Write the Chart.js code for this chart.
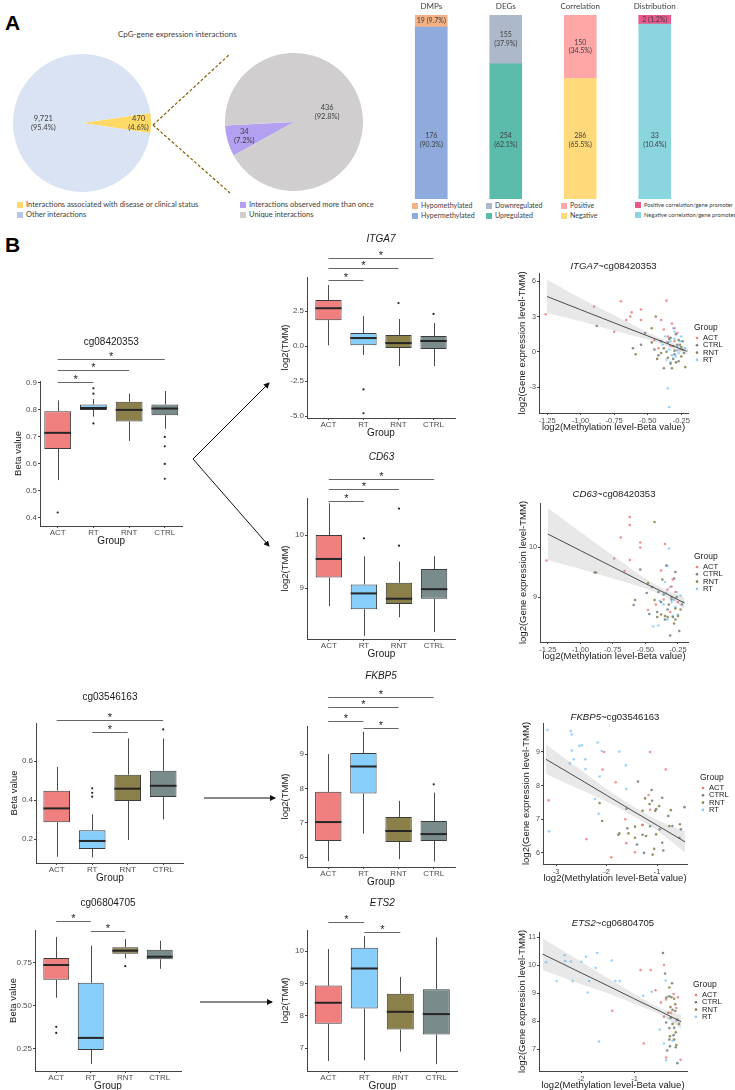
<!DOCTYPE html>
<html>
<head>
<meta charset="utf-8">
<script src="https://cdn.jsdelivr.net/npm/chart.js@4.4.1/dist/chart.umd.min.js"></script>
<style>
  body { margin: 0; background: #fff; }
  #page { position: relative; width: 735px; height: 1090px; overflow: hidden; font-family: 'Liberation Sans', Arial, sans-serif; }
  .box { position: absolute; }
  .lbl { position: absolute; white-space: nowrap; font-family: Lato, 'Open Sans', sans-serif; font-size: 7px; line-height: 8px; color: #404040; }
  .sq { display: inline-block; width: 6px; height: 6px; margin-right: 3px; vertical-align: -1px; }
  .big { position: absolute; font-weight: bold; font-size: 21px; color: #000; }
  svg { position: absolute; left: 0; top: 0; pointer-events: none; }
</style>
</head>
<body>
<div id="page">
  <div class="big" style="left:5px;top:11px;">A</div>
  <div class="big" style="left:5px;top:233px;">B</div>
  <div class="lbl" style="left:118px;top:30px;font-size:8px;">CpG-gene expression interactions</div>

  <div class="lbl" style="left:17px;top:201px;font-size:7.5px;"><span class="sq" style="background:#FFD966"></span>Interactions associated with disease or clinical status</div>
  <div class="lbl" style="left:17px;top:211px;font-size:7.5px;"><span class="sq" style="background:#B4C7E7"></span>Other interactions</div>
  <div class="lbl" style="left:240px;top:201px;font-size:7.5px;"><span class="sq" style="background:#B4A0F0"></span>Interactions observed more than once</div>
  <div class="lbl" style="left:240px;top:211px;font-size:7.5px;"><span class="sq" style="background:#D0CECE"></span>Unique interactions</div>
  <div id="barLegend"></div>

  <svg width="735" height="1090">
    <defs>
      <marker id="ah" markerWidth="6" markerHeight="6" refX="5" refY="3" orient="auto" markerUnits="userSpaceOnUse">
        <path d="M0,0 L6,3 L0,6 z" fill="#111"/>
      </marker>
    </defs>
    <g stroke="#7F6000" stroke-width="1.2" stroke-dasharray="3 2" fill="none">
      <line x1="153" y1="125" x2="230" y2="54"/>
      <line x1="153" y1="125" x2="230" y2="193"/>
    </g>
    <g stroke="#111" stroke-width="1" fill="none" marker-end="url(#ah)">
      <line x1="193" y1="459" x2="269" y2="383"/>
      <line x1="193" y1="459" x2="269" y2="546"/>
      <line x1="204" y1="798" x2="275" y2="798"/>
      <line x1="200" y1="1002" x2="272" y2="1002"/>
    </g>
  </svg>
</div>

<script>
// ---------- data ----------
const groups = ['ACT', 'RT', 'RNT', 'CTRL'];
const groupColors = ['#F08080', '#87CEFA', '#8B7F4A', '#7A8B8B'];

// panel A, pies
const pie1Values = [470, 9721];
const pie1Text = ['470\n(4.6%)', '9,721\n(95.4%)'];
const pie2Values = [34, 436];
const pie2Text = ['34\n(7.2%)', '436\n(92.8%)'];

// panel A, stacked bars (share of bar height as drawn)
const barCats = ['DMPs', 'DEGs', 'Correlation', 'Distribution'];
const barBottomShare = [93.5, 73.5, 65.5, 95];
const barTopShare = [6.5, 26.5, 34.5, 5];
const barTopText = ['19 (9.7%)', '155\n(37.9%)', '150\n(34.5%)', '2 (1.2%)'];
const barBottomText = ['176\n(90.3%)', '254\n(62.1%)', '286\n(65.5%)', '33\n(10.4%)'];
const barTopNames = ['Hypomethylated', 'Downregulated', 'Positive', 'Positive correlation/gene promoter'];
const barBottomNames = ['Hypermethylated', 'Upregulated', 'Negative', 'Negative correlation/gene promoter'];
const barTopColors = ['#F4B183', '#ADB9CA', '#FFA6A6', '#E9578C'];
const barBottomColors = ['#8FAADC', '#5CBCAC', '#FFD97A', '#8BD6DE'];

// panel B, box stats per group: [min, q1, median, q3, max]
const cg08420353Stats = [[0.54, 0.655, 0.715, 0.795, 0.835], [0.775, 0.80, 0.807, 0.82, 0.84], [0.685, 0.757, 0.80, 0.83, 0.86], [0.73, 0.78, 0.805, 0.82, 0.87]];
const cg08420353Out = [[0, 0.42], [1, 0.88], [1, 0.86], [1, 0.75], [3, 0.70], [3, 0.665], [3, 0.60], [3, 0.545]];
const itga7Stats = [[0.05, 1.85, 2.7, 3.29, 4.35], [-0.64, 0.05, 0.57, 0.93, 2.14], [-1.43, -0.14, 0.21, 0.79, 1.93], [-1.43, -0.21, 0.36, 0.71, 1.64]];
const itga7Out = [[1, -3.1], [1, -4.8], [2, 3.07], [3, 2.29]];
const cd63Stats = [[8.66, 9.2, 9.55, 10.0, 10.6], [8.1, 8.6, 8.9, 9.07, 9.6], [8.45, 8.7, 8.8, 9.1, 9.5], [8.17, 8.8, 8.98, 9.36, 9.6]];
const cd63Out = [[1, 9.94], [2, 9.8], [2, 10.5]];
const cg03546163Stats = [[0.109, 0.286, 0.357, 0.448, 0.57], [0.106, 0.149, 0.19, 0.245, 0.327], [0.195, 0.395, 0.458, 0.53, 0.716], [0.30, 0.415, 0.473, 0.55, 0.716]];
const cg03546163Out = [[1, 0.46], [1, 0.437], [1, 0.417], [3, 0.762]];
const fkbp5Stats = [[5.88, 6.47, 7.02, 7.9, 9.0], [6.68, 7.85, 8.64, 9.03, 9.65], [5.94, 6.44, 6.76, 7.17, 7.64], [5.87, 6.47, 6.67, 7.05, 7.88]];
const fkbp5Out = [[3, 8.12]];
const cg06804705Stats = [[0.547, 0.651, 0.737, 0.778, 0.9], [0.163, 0.244, 0.314, 0.634, 0.849], [0.775, 0.802, 0.82, 0.84, 0.887], [0.715, 0.77, 0.785, 0.825, 0.878]];
const cg06804705Out = [[0, 0.378], [0, 0.343], [2, 0.73]];
const ets2Stats = [[6.6, 7.75, 8.4, 8.93, 10.06], [6.62, 8.22, 9.46, 10.1, 10.46], [6.89, 7.57, 8.12, 8.68, 9.2], [6.5, 7.42, 8.05, 8.82, 10.42]];
const ets2Out = [];

// scatter legend order
const legendGroups = ['ACT', 'CTRL', 'RNT', 'RT'];
const legendColors = ['#F08080', '#6F8080', '#8B7F4A', '#87CEFA'];

// ITGA7 ~ cg08420353, [log2 beta, log2 TMM]
const sc1Act = [[-1.26, 3.2], [-0.90, 3.85], [-0.75, 1.7], [-0.70, 4.3], [-0.66, 2.7], [-0.63, 3.0], [-0.62, 3.35], [-0.55, 3.6], [-0.55, 2.7], [-0.40, 2.7], [-0.36, 4.35], [-0.32, 2.4], [-0.35, 1.3], [-0.30, 0.9], [-0.42, 0.3], [-0.38, 1.9], [-0.28, 1.6], [-0.33, 0.5], [-0.45, 1.0], [-0.26, 0.2], [-0.30, 2.0]];
const sc1Ctrl = [[-0.88, 2.2], [-0.61, 0.3], [-0.55, 0.6], [-0.52, 1.6], [-0.38, -1.4], [-0.45, 0.2], [-0.42, -0.3], [-0.35, 0.8], [-0.33, 1.2], [-0.30, -0.2], [-0.28, 0.6], [-0.27, -0.8], [-0.25, 0.4], [-0.23, -0.1], [-0.36, 0.0], [-0.40, 0.9], [-0.31, -0.6], [-0.29, 1.5], [-0.24, 0.9], [-0.33, -1.0]];
const sc1Rnt = [[-0.59, -0.2], [-0.47, 2.0], [-0.44, 3.0], [-0.47, 0.8], [-0.32, -1.4], [-0.38, 0.3], [-0.35, -0.5], [-0.30, 0.1], [-0.27, 1.0], [-0.25, -0.4], [-0.22, -1.3], [-0.43, -0.6], [-0.34, 1.1], [-0.29, -0.9], [-0.24, 0.2], [-0.40, -0.1], [-0.26, 0.6], [-0.31, 0.5]];
const sc1Rt = [[-0.35, -3.1], [-0.34, -4.7], [-0.37, 1.3], [-0.33, 0.9], [-0.30, 1.1], [-0.28, 0.4], [-0.32, -0.3], [-0.36, -0.7], [-0.31, 2.0], [-0.30, 1.7], [-0.29, -0.4], [-0.26, 0.9], [-0.27, -0.1], [-0.22, 0.3], [-0.20, 0.1], [-0.39, 0.6], [-0.34, 0.2], [-0.25, 1.3], [-0.33, -0.9], [-0.28, 0.1]];
const sc1FitX = [-1.25, -1.0, -0.75, -0.5, -0.35, -0.21];
const sc1FitMid = [4.7, 3.58, 2.46, 1.35, 0.68, 0.05];
const sc1FitHi = [6.15, 4.55, 3.1, 1.65, 0.9, 0.38];
const sc1FitLo = [3.3, 2.6, 1.8, 1.05, 0.45, -0.28];

// CD63 ~ cg08420353
const sc2Act = [[-1.26, 9.73], [-0.74, 9.77], [-0.69, 10.19], [-0.66, 9.52], [-0.62, 10.6], [-0.62, 10.44], [-0.62, 9.74], [-0.54, 10.09], [-0.54, 9.99], [-0.35, 10.06], [-0.38, 9.53], [-0.30, 9.21], [-0.48, 8.74], [-0.33, 9.15], [-0.27, 9.1], [-0.36, 8.95], [-0.31, 8.7], [-0.42, 8.85], [-0.29, 9.35], [-0.25, 8.9]];
const sc2Ctrl = [[-0.89, 9.49], [-0.54, 9.55], [-0.34, 9.63], [-0.27, 9.5], [-0.28, 9.37], [-0.49, 9.08], [-0.59, 8.84], [-0.47, 8.66], [-0.31, 8.23], [-0.24, 8.32], [-0.38, 8.9], [-0.33, 8.75], [-0.36, 9.05], [-0.30, 8.95], [-0.41, 8.7], [-0.26, 9.0], [-0.29, 8.6], [-0.35, 8.55], [-0.22, 8.85], [-0.40, 9.1]];
const sc2Rnt = [[-0.88, 9.49], [-0.43, 10.5], [-0.48, 9.28], [-0.58, 8.94], [-0.43, 8.94], [-0.28, 8.47], [-0.27, 8.55], [-0.27, 8.77], [-0.38, 8.65], [-0.35, 8.62], [-0.32, 8.85], [-0.45, 9.2], [-0.30, 9.0], [-0.25, 8.62], [-0.23, 8.75], [-0.37, 9.35], [-0.41, 8.6], [-0.33, 8.6]];
const sc2Rt = [[-0.32, 9.97], [-0.33, 9.62], [-0.44, 8.41], [-0.40, 8.43], [-0.23, 9.03], [-0.25, 8.65], [-0.30, 8.9], [-0.34, 9.08], [-0.28, 8.95], [-0.36, 8.85], [-0.31, 9.2], [-0.27, 8.8], [-0.39, 8.92], [-0.33, 8.55], [-0.21, 8.9], [-0.26, 9.1], [-0.35, 9.3], [-0.29, 8.62]];
const sc2FitX = [-1.25, -1.0, -0.75, -0.5, -0.35, -0.2];
const sc2FitMid = [10.26, 9.93, 9.6, 9.27, 9.08, 8.88];
const sc2FitHi = [10.78, 10.3, 9.83, 9.37, 9.15, 8.99];
const sc2FitLo = [9.74, 9.56, 9.37, 9.17, 9.01, 8.77];

// FKBP5 ~ cg03546163
const sc3Act = [[-3.15, 7.56], [-2.05, 9.0], [-2.08, 8.48], [-1.82, 8.1], [-2.40, 6.41], [-1.91, 5.87], [-1.63, 7.0], [-1.61, 6.29], [-1.14, 9.0], [-0.83, 8.48], [-1.17, 7.72], [-1.14, 7.28], [-1.44, 6.02], [-1.29, 6.83]];
const sc3Ctrl = [[-1.38, 8.12], [-1.11, 7.87], [-0.90, 7.64], [-1.10, 7.55], [-1.61, 7.31], [-1.02, 7.3], [-0.78, 7.1], [-1.59, 6.73], [-1.77, 6.54], [-1.29, 6.54], [-1.14, 6.79], [-0.95, 6.7], [-1.40, 6.25], [-1.26, 6.0], [-0.90, 6.3], [-0.70, 6.8], [-0.46, 7.36], [-0.88, 6.07], [-0.53, 6.7]];
const sc3Rnt = [[-2.14, 7.48], [-2.09, 6.95], [-1.75, 6.58], [-1.57, 6.58], [-1.44, 6.45], [-1.24, 7.62], [-1.15, 7.45], [-1.04, 7.25], [-0.96, 7.39], [-1.29, 6.83], [-1.22, 6.5], [-1.06, 6.12], [-1.09, 5.95], [-0.76, 6.8], [-0.73, 7.27], [-0.55, 6.85], [-0.56, 6.45], [-1.29, 7.25], [-1.44, 6.78], [-1.02, 6.55]];
const sc3Rt = [[-3.17, 9.65], [-2.71, 9.62], [-2.69, 9.52], [-2.69, 9.04], [-2.73, 8.66], [-2.65, 8.78], [-2.54, 9.18], [-2.49, 9.2], [-2.42, 8.78], [-2.42, 8.49], [-2.18, 9.28], [-2.10, 9.03], [-2.14, 8.27], [-1.75, 9.01], [-1.62, 8.6], [-1.61, 7.9], [-2.23, 7.6], [-2.16, 7.16], [-3.14, 6.64]];
const sc3FitX = [-3.2, -2.5, -2.0, -1.5, -1.0, -0.45];
const sc3FitMid = [8.78, 8.16, 7.71, 7.26, 6.82, 6.33];
const sc3FitHi = [9.22, 8.45, 7.9, 7.4, 6.98, 6.64];
const sc3FitLo = [8.34, 7.87, 7.52, 7.12, 6.66, 6.02];

// ETS2 ~ cg06804705
const sc4Act = [[-1.42, 8.37], [-0.89, 9.82], [-0.70, 9.82], [-0.61, 9.1], [-0.51, 8.66], [-0.45, 8.15], [-0.45, 10.0], [-0.83, 7.2], [-0.41, 8.77], [-0.27, 8.97], [-0.22, 8.47], [-0.19, 8.85], [-0.41, 6.7], [-0.14, 6.62], [-0.32, 8.3]];
const sc4Ctrl = [[-0.47, 10.43], [-0.43, 9.7], [-0.35, 8.89], [-0.30, 9.35], [-0.41, 7.95], [-0.35, 7.75], [-0.35, 7.34], [-0.27, 7.5], [-0.39, 6.95], [-0.34, 7.1], [-0.20, 6.5], [-0.23, 7.07], [-0.29, 8.4], [-0.26, 7.76]];
const sc4Rnt = [[-0.41, 8.83], [-0.35, 9.2], [-0.31, 8.85], [-0.26, 8.8], [-0.33, 8.5], [-0.24, 8.36], [-0.20, 8.06], [-0.29, 7.9], [-0.23, 7.6], [-0.26, 7.34], [-0.22, 7.15], [-0.34, 7.46], [-0.17, 7.9], [-0.32, 8.12], [-0.24, 8.6], [-0.37, 8.3]];
const sc4Rt = [[-2.66, 10.1], [-2.46, 9.43], [-2.31, 10.35], [-2.30, 10.14], [-2.19, 10.13], [-2.16, 9.43], [-2.0, 10.12], [-1.91, 10.3], [-1.88, 9.02], [-1.85, 9.43], [-1.73, 9.9], [-1.70, 10.43], [-1.67, 7.27], [-1.43, 10.16], [-1.36, 9.43], [-1.28, 9.43], [-0.84, 8.9], [-0.68, 9.05], [-0.53, 7.7], [-0.45, 7.2], [-0.42, 9.45], [-0.39, 8.87], [-0.41, 6.6], [-0.22, 8.0], [-0.35, 8.1], [-0.29, 7.3]];
const sc4FitX = [-2.72, -2.0, -1.5, -1.0, -0.5, -0.13];
const sc4FitMid = [10.39, 9.72, 9.26, 8.79, 8.33, 7.98];
const sc4FitHi = [10.96, 10.12, 9.53, 8.97, 8.45, 8.22];
const sc4FitLo = [9.82, 9.32, 8.99, 8.61, 8.21, 7.72];

// ---------- helpers ----------
const FONT = '"Liberation Sans", Arial, sans-serif';
const AXIS = '#444';

function place(left, top, w, h) {
  const d = document.createElement('div');
  d.className = 'box';
  d.style.left = left + 'px';
  d.style.top = top + 'px';
  const c = document.createElement('canvas');
  c.width = w; c.height = h;
  c.style.width = w + 'px'; c.style.height = h + 'px';
  d.appendChild(c);
  document.getElementById('page').appendChild(d);
  return c;
}

function multiline(ctx, text, x, y, gap) {
  const lines = text.split('\n');
  lines.forEach((t, k) => ctx.fillText(t, x, y + (k - (lines.length - 1) / 2) * gap));
}

// ---------- panel A: pies ----------
function pie(values, colors, texts, radii, rotation, left, top) {
  const cv = place(left, top, 138, 138);
  new Chart(cv, {
    type: 'pie',
    data: { datasets: [{ data: values, backgroundColor: colors, borderWidth: 0 }] },
    options: {
      responsive: false, animation: false, rotation: rotation,
      plugins: { legend: { display: false }, tooltip: { enabled: false } }
    },
    plugins: [{
      id: 'pieText',
      afterDatasetsDraw(chart) {
        const { ctx } = chart;
        ctx.save();
        ctx.font = '7.5px Lato'; ctx.fillStyle = '#404040';
        ctx.textAlign = 'center'; ctx.textBaseline = 'middle';
        chart.getDatasetMeta(0).data.forEach((a, i) => {
          const mid = (a.startAngle + a.endAngle) / 2;
          const r = a.outerRadius * radii[i];
          multiline(ctx, texts[i], a.x + Math.cos(mid) * r, a.y + Math.sin(mid) * r, 9);
        });
        ctx.restore();
      }
    }]
  });
}
pie(pie1Values, ['#FFD966', '#DAE3F3'], pie1Text, [0.82, 0.56], 81.7, 13, 54);
pie(pie2Values, ['#B4A0F0', '#D0CECE'], pie2Text, [0.75, 0.5], 241, 225, 53);

// ---------- panel A: stacked bars ----------
(function () {
  const cv = place(394, 0, 298, 200);
  const bottomLabelLevel = 32;
  new Chart(cv, {
    type: 'bar',
    data: {
      labels: barCats,
      datasets: [
        { data: barBottomShare, backgroundColor: barBottomColors, borderWidth: 0, barThickness: 32 },
        { data: barTopShare, backgroundColor: barTopColors, borderWidth: 0, barThickness: 32 }
      ]
    },
    options: {
      responsive: false, animation: false,
      layout: { padding: { top: 15, bottom: 1, left: 0, right: 0 } },
      plugins: { legend: { display: false }, tooltip: { enabled: false } },
      scales: {
        x: { stacked: true, display: false },
        y: { stacked: true, display: false, min: 0, max: 100 }
      }
    },
    plugins: [{
      id: 'barText',
      afterDatasetsDraw(chart) {
        const { ctx, scales: { x, y } } = chart;
        ctx.save();
        ctx.textAlign = 'center'; ctx.textBaseline = 'middle'; ctx.fillStyle = '#404040';
        barCats.forEach((c, i) => {
          const px = x.getPixelForValue(i);
          ctx.font = '8px Lato';
          ctx.fillText(c, px, 6);
          ctx.font = '7px Lato';
          multiline(ctx, barTopText[i], px, y.getPixelForValue(barBottomShare[i] + barTopShare[i] / 2), 8.5);
          multiline(ctx, barBottomText[i], px, y.getPixelForValue(bottomLabelLevel), 8.5);
        });
        ctx.restore();
      }
    }]
  });
  const legendX = [412, 486, 561, 635];
  const legendSize = [7, 7, 7, 5.8];
  const host = document.getElementById('barLegend');
  barCats.forEach((c, i) => {
    const st = `left:${legendX[i]}px;font-size:${legendSize[i]}px;`;
    host.insertAdjacentHTML('beforeend',
      `<div class="lbl" style="${st}top:201px;"><span class="sq" style="background:${barTopColors[i]}"></span>${barTopNames[i]}</div>` +
      `<div class="lbl" style="${st}top:211px;"><span class="sq" style="background:${barBottomColors[i]}"></span>${barBottomNames[i]}</div>`);
  });
})();

// ---------- panel B: box plots ----------
function boxPlot(stats, outliers, L) {
  const e = (L.actX - L.axisX) / L.step;
  const plotW = (3 + 2 * e) * L.step;
  const left = L.axisX - 45, top = L.titleY - 10;
  const w = Math.round(45 + plotW + 4), h = L.bottom + 24 - top;
  const cv = place(left, top, w, h);
  new Chart(cv, {
    type: 'bar',
    data: {
      datasets: [
        {
          type: 'scatter', data: outliers.map(o => ({ x: o[0], y: o[1] })),
          pointRadius: 1.1, backgroundColor: '#222', borderWidth: 0
        },
        {
          data: stats.map((s, i) => ({ x: i, y: [s[1], s[3]] })),
          backgroundColor: groupColors, borderColor: '#3c3c3c', borderWidth: 1, borderSkipped: false,
          barPercentage: 0.75, categoryPercentage: 1
        }
      ]
    },
    options: {
      responsive: false, animation: false,
      layout: { padding: { top: L.top - top, right: w - 45 - plotW, left: 0, bottom: 0 } },
      plugins: { legend: { display: false }, tooltip: { enabled: false } },
      scales: {
        x: {
          type: 'linear', min: -e, max: 3 + e, offset: false,
          afterBuildTicks: ax => { ax.ticks = [0, 1, 2, 3].map(v => ({ value: v })); },
          afterFit: ax => { ax.height = 24; },
          ticks: { callback: v => groups[v], font: { size: 8, family: FONT }, color: '#4d4d4d', padding: 0, maxRotation: 0, autoSkip: false },
          grid: { display: true, drawOnChartArea: false, tickLength: 2, color: AXIS, offset: false },
          border: { color: AXIS, width: 1 },
          title: { display: true, text: 'Group', font: { size: 10, family: FONT, lineHeight: 1.2 }, color: '#1a1a1a', padding: { top: 0, bottom: 3 } }
        },
        y: {
          min: L.yMin, max: L.yMax,
          afterBuildTicks: ax => { ax.ticks = L.yTicks.map(v => ({ value: v })); },
          afterFit: ax => { ax.width = 45; },
          ticks: { callback: v => v.toFixed(L.dec), font: { size: 8, family: FONT }, color: '#4d4d4d', padding: 1 },
          grid: { display: true, drawOnChartArea: false, tickLength: 2, color: AXIS },
          border: { color: AXIS, width: 1 },
          title: { display: true, text: L.yTitle, font: { size: 9.5, family: FONT, lineHeight: 1.2 }, color: '#1a1a1a', padding: { top: 18, bottom: 0 } }
        }
      }
    },
    plugins: [{
      id: 'boxExtras',
      beforeDatasetsDraw(chart) {
        const { ctx, scales: { x, y } } = chart;
        ctx.save();
        ctx.strokeStyle = '#4a4a4a'; ctx.lineWidth = 1;
        stats.forEach((s, i) => {
          const px = Math.round(x.getPixelForValue(i)) + 0.5;
          ctx.beginPath();
          ctx.moveTo(px, y.getPixelForValue(s[0])); ctx.lineTo(px, y.getPixelForValue(s[1]));
          ctx.moveTo(px, y.getPixelForValue(s[3])); ctx.lineTo(px, y.getPixelForValue(s[4]));
          ctx.stroke();
        });
        ctx.restore();
      },
      afterDatasetsDraw(chart) {
        const { ctx, scales: { y } } = chart;
        const bars = chart.getDatasetMeta(1).data;
        ctx.save();
        ctx.strokeStyle = '#262626'; ctx.lineWidth = 2;
        stats.forEach((s, i) => {
          const b = bars[i], py = y.getPixelForValue(s[2]);
          ctx.beginPath(); ctx.moveTo(b.x - b.width / 2, py); ctx.lineTo(b.x + b.width / 2, py); ctx.stroke();
        });
        ctx.restore();
      },
      afterDraw(chart) {
        const { ctx, scales: { x }, chartArea } = chart;
        ctx.save();
        ctx.fillStyle = '#1a1a1a'; ctx.textAlign = 'center'; ctx.textBaseline = 'middle';
        ctx.font = (L.italic ? 'italic ' : '') + '10px ' + FONT;
        ctx.fillText(L.title, (chartArea.left + chartArea.right) / 2, L.titleY - top);
        ctx.strokeStyle = '#666'; ctx.lineWidth = 1;
        ctx.font = '11px ' + FONT; ctx.textBaseline = 'alphabetic';
        L.sig.forEach(([a, b, sy]) => {
          const yy = Math.round(sy - top) + 0.5;
          const x1 = x.getPixelForValue(a), x2 = x.getPixelForValue(b);
          ctx.beginPath(); ctx.moveTo(x1, yy); ctx.lineTo(x2, yy); ctx.stroke();
          ctx.fillText('*', (x1 + x2) / 2, yy + 0.5);
        });
        ctx.restore();
      }
    }]
  });
}

boxPlot(cg08420353Stats, cg08420353Out, { axisX: 40, actX: 57.7, step: 35.7, top: 381, bottom: 526, yMin: 0.37, yMax: 0.907, yTicks: [0.4, 0.5, 0.6, 0.7, 0.8, 0.9], dec: 1, yTitle: 'Beta value', title: 'cg08420353', italic: false, titleY: 342, sig: [[0, 3, 359], [0, 2, 370], [0, 1, 382]] });
boxPlot(itga7Stats, itga7Out, { axisX: 307, actX: 328.5, step: 35.1, top: 277, bottom: 418, yMin: -5.14, yMax: 4.93, yTicks: [-5, -2.5, 0, 2.5], dec: 1, yTitle: 'log2(TMM)', title: 'ITGA7', italic: true, titleY: 239, sig: [[0, 3, 258], [0, 2, 268], [0, 1, 280]] });
boxPlot(cd63Stats, cd63Out, { axisX: 307, actX: 328.8, step: 35.1, top: 498, bottom: 639, yMin: 8.04, yMax: 10.7, yTicks: [9, 10], dec: 0, yTitle: 'log2(TMM)', title: 'CD63', italic: true, titleY: 457, sig: [[0, 3, 479], [0, 2, 489], [0, 1, 501]] });
boxPlot(cg03546163Stats, cg03546163Out, { axisX: 36, actX: 56.7, step: 35.5, top: 723, bottom: 863, yMin: 0.077, yMax: 0.795, yTicks: [0.2, 0.4, 0.6], dec: 1, yTitle: 'Beta value', title: 'cg03546163', italic: false, titleY: 697, sig: [[0, 3, 720], [1, 2, 732]] });
boxPlot(fkbp5Stats, fkbp5Out, { axisX: 307, actX: 328.3, step: 35.2, top: 726, bottom: 867, yMin: 5.71, yMax: 9.82, yTicks: [6, 7, 8, 9], dec: 0, yTitle: 'log2(TMM)', title: 'FKBP5', italic: true, titleY: 676, sig: [[0, 3, 697], [0, 2, 707], [0, 1, 721], [1, 2, 728]] });
boxPlot(cg06804705Stats, cg06804705Out, { axisX: 35, actX: 56.3, step: 34.6, top: 930, bottom: 1071, yMin: 0.122, yMax: 0.94, yTicks: [0.25, 0.5, 0.75], dec: 2, yTitle: 'Beta value', title: 'cg06804705', italic: false, titleY: 903, sig: [[0, 1, 921], [1, 2, 931]] });
boxPlot(ets2Stats, ets2Out, { axisX: 307, actX: 328.3, step: 36, top: 930, bottom: 1071, yMin: 6.29, yMax: 10.65, yTicks: [7, 8, 9, 10], dec: 0, yTitle: 'log2(TMM)', title: 'ETS2', italic: true, titleY: 903, sig: [[0, 1, 922], [1, 2, 932]] });

// ---------- panel B: scatter plots ----------
function scatterPlot(sets, fitX, fitMid, fitHi, fitLo, L) {
  const left = L.left - 32, top = L.titleY - 8;
  const w = 735 - left, h = L.bottom + 22 - top;
  const cv = place(left, top, w, h);
  const pts = arr => arr.map(p => ({ x: p[0], y: p[1] }));
  const line = ys => fitX.map((v, i) => ({ x: v, y: ys[i] }));
  new Chart(cv, {
    type: 'scatter',
    data: {
      datasets: [
        { type: 'line', data: line(fitMid), borderColor: '#4a4a4a', borderWidth: 1, pointRadius: 0, fill: false, tension: 0 },
        { type: 'line', data: line(fitHi), borderColor: 'rgba(0,0,0,0)', borderWidth: 0, pointRadius: 0, fill: '+1', backgroundColor: 'rgba(150,150,150,0.22)', tension: 0.3 },
        { type: 'line', data: line(fitLo), borderColor: 'rgba(0,0,0,0)', borderWidth: 0, pointRadius: 0, fill: false, tension: 0.3 },
        ...sets.map((s, k) => ({ data: pts(s), pointRadius: 1.3, borderWidth: 0, backgroundColor: legendColors[k] + 'dd' }))
      ]
    },
    options: {
      responsive: false, animation: false,
      layout: { padding: { top: L.top - top, right: w - (L.right - left), left: 0, bottom: 0 } },
      plugins: { legend: { display: false }, tooltip: { enabled: false } },
      scales: {
        x: {
          min: L.xMin, max: L.xMax,
          afterBuildTicks: ax => { ax.ticks = L.xTicks.map(v => ({ value: v })); },
          afterFit: ax => { ax.height = 22; },
          ticks: { callback: v => v.toFixed(L.xDec), font: { size: 7.6, family: FONT }, color: '#4d4d4d', padding: 1, maxRotation: 0, autoSkip: false },
          grid: { display: true, drawOnChartArea: false, tickLength: 2, color: AXIS },
          border: { color: AXIS, width: 1 },
          title: { display: true, text: 'log2(Methylation level-Beta value)', font: { size: 9.5, family: FONT, lineHeight: 1 }, color: '#1a1a1a', padding: { top: 0, bottom: 3 } }
        },
        y: {
          min: L.yMin, max: L.yMax,
          afterBuildTicks: ax => { ax.ticks = L.yTicks.map(v => ({ value: v })); },
          afterFit: ax => { ax.width = 32; },
          ticks: { callback: v => v.toFixed(0), font: { size: 7.2, family: FONT }, color: '#4d4d4d', padding: 1 },
          grid: { display: true, drawOnChartArea: false, tickLength: 2, color: AXIS },
          border: { color: AXIS, width: 1 },
          title: { display: true, text: 'log2(Gene expression level-TMM)', font: { size: 9.5, family: FONT, lineHeight: 1 }, color: '#1a1a1a', padding: { top: 11, bottom: 0 } }
        }
      }
    },
    plugins: [{
      id: 'scatterExtras',
      afterDraw(chart) {
        const { ctx, chartArea } = chart;
        ctx.save();
        ctx.fillStyle = '#1a1a1a'; ctx.textBaseline = 'middle'; ctx.textAlign = 'left';
        ctx.font = 'italic 9.6px ' + FONT;
        const gw = ctx.measureText(L.gene).width;
        ctx.font = '9.6px ' + FONT;
        const cw = ctx.measureText(L.cpg).width;
        const cx = (chartArea.left + chartArea.right) / 2 - (gw + cw) / 2;
        ctx.font = 'italic 9.6px ' + FONT;
        ctx.fillText(L.gene, cx, L.titleY - top);
        ctx.font = '9.6px ' + FONT;
        ctx.fillText(L.cpg, cx + gw, L.titleY - top);
        // legend
        const lx = L.lx - left, ly = L.ly - top;
        ctx.font = '8.5px ' + FONT;
        ctx.fillText('Group', lx, ly);
        ctx.font = '7.6px ' + FONT;
        legendGroups.forEach((g, k) => {
          const yy = ly + 10 + k * 7.3;
          ctx.fillStyle = legendColors[k];
          ctx.beginPath(); ctx.arc(lx + 3, yy, 1.3, 0, Math.PI * 2); ctx.fill();
          ctx.fillStyle = '#1a1a1a';
          ctx.fillText(g, lx + 9, yy);
        });
        ctx.restore();
      }
    }]
  });
}

scatterPlot([sc1Act, sc1Ctrl, sc1Rnt, sc1Rt], sc1FitX, sc1FitMid, sc1FitHi, sc1FitLo,
  { left: 539, right: 688, top: 273, bottom: 413, xMin: -1.31, xMax: -0.2, yMin: -5.2, yMax: 6.7, xTicks: [-1.25, -1, -0.75, -0.5, -0.25], xDec: 2, yTicks: [-3, 0, 3, 6], gene: 'ITGA7', cpg: '~cg08420353', titleY: 266, lx: 694, ly: 328 });
scatterPlot([sc2Act, sc2Ctrl, sc2Rnt, sc2Rt], sc2FitX, sc2FitMid, sc2FitHi, sc2FitLo,
  { left: 540, right: 688, top: 503, bottom: 642, xMin: -1.31, xMax: -0.173, yMin: 8.1, yMax: 10.88, xTicks: [-1.25, -1, -0.75, -0.5, -0.25], xDec: 2, yTicks: [9, 10], gene: 'CD63', cpg: '~cg08420353', titleY: 494, lx: 694, ly: 557 });
scatterPlot([sc3Act, sc3Ctrl, sc3Rnt, sc3Rt], sc3FitX, sc3FitMid, sc3FitHi, sc3FitLo,
  { left: 543, right: 687, top: 723, bottom: 864, xMin: -3.26, xMax: -0.41, yMin: 5.67, yMax: 9.86, xTicks: [-3, -2, -1], xDec: 0, yTicks: [6, 7, 8, 9], gene: 'FKBP5', cpg: '~cg03546163', titleY: 717, lx: 700, ly: 778 });
scatterPlot([sc4Act, sc4Ctrl, sc4Rnt, sc4Rt], sc4FitX, sc4FitMid, sc4FitHi, sc4FitLo,
  { left: 539, right: 687, top: 932, bottom: 1071, xMin: -2.79, xMax: -0.02, yMin: 6.22, yMax: 11.18, xTicks: [-2, -1], xDec: 0, yTicks: [7, 8, 9, 10, 11], gene: 'ETS2', cpg: '~cg06804705', titleY: 923, lx: 693, ly: 985 });
</script>
</body>
</html>
